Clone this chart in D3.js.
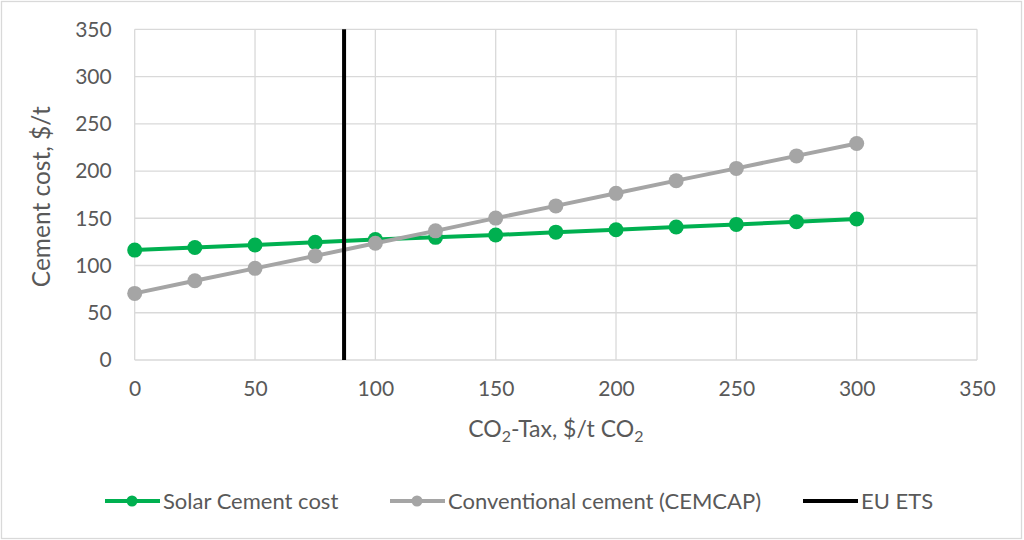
<!DOCTYPE html>
<html>
<head>
<meta charset="utf-8">
<script src="https://cdn.jsdelivr.net/npm/d3@7"></script>
<style>
  html, body { margin: 0; padding: 0; background: #fff; }
  svg { display: block; font-family: Lato, "Open Sans", sans-serif; }
</style>
</head>
<body>
<svg id="chart" width="1024" height="540"></svg>
<script>
// CO2 tax levels ($/t CO2)
const taxLevels = [0, 25, 50, 75, 100, 125, 150, 175, 200, 225, 250, 275, 300];
// Cement production cost ($/t) at each tax level
const solarCementCost = [116.3, 119, 121.7, 124.5, 127.5, 129.8, 132.3, 135.3, 137.8, 140.8, 143.5, 146.3, 149.2];
const conventionalCementCost = [70.5, 83.8, 97, 110.2, 123.5, 136.7, 150.2, 163.1, 176.4, 189.8, 202.8, 216, 229.1];
// EU ETS carbon price ($/t CO2)
const euEtsPrice = 87;
// Axis ticks
const xTicks = [0, 50, 100, 150, 200, 250, 300, 350];
const yTicks = [0, 50, 100, 150, 200, 250, 300, 350];
const seriesNames = ["Solar Cement cost", "Conventional cement (CEMCAP)", "EU ETS"];

const green = "#00b050", grey = "#a5a5a5", black = "#000000";
const gridColor = "#d9d9d9", textColor = "#595959";

const svg = d3.select("#chart");

// outer frame
svg.append("rect")
  .attr("x", 1.5).attr("y", 1.5).attr("width", 1020).attr("height", 537)
  .attr("fill", "#fff").attr("stroke", gridColor).attr("stroke-width", 1.3);

const x = d3.scaleLinear().domain([0, 350]).range([134.7, 977]);
const y = d3.scaleLinear().domain([0, 350]).range([360, 29.3]);

// gridlines
const grid = svg.append("g");
grid.selectAll("line.h").data(yTicks).join("line")
  .attr("x1", x(0)).attr("x2", x(350))
  .attr("y1", d => y(d)).attr("y2", d => y(d))
  .attr("stroke", gridColor).attr("stroke-width", 1.3);
grid.selectAll("line.v").data(xTicks).join("line")
  .attr("y1", y(0)).attr("y2", y(350))
  .attr("x1", d => x(d)).attr("x2", d => x(d))
  .attr("stroke", gridColor).attr("stroke-width", 1.3);

// axes (labels only, lines come from the grid)
const yAxis = svg.append("g")
  .attr("transform", `translate(${x(0) - 23},0)`)
  .call(d3.axisLeft(y).tickValues(yTicks).tickSize(0).tickPadding(0));
yAxis.select(".domain").remove();
yAxis.selectAll("text").attr("fill", textColor).style("font-size", "21px").style("font-family", "Lato");

const xAxis = svg.append("g")
  .attr("transform", `translate(0,${y(0) + 21})`)
  .call(d3.axisBottom(x).tickValues(xTicks).tickSize(0).tickPadding(0));
xAxis.select(".domain").remove();
xAxis.selectAll("text").attr("fill", textColor).style("font-size", "21px").style("font-family", "Lato");

// axis titles
svg.append("text")
  .attr("transform", `translate(50,${(y(0) + y(350)) / 2 + 2}) rotate(-90)`)
  .attr("text-anchor", "middle").attr("fill", textColor)
  .style("font-size", "24.5px")
  .text("Cement cost, $/t");

const xt = svg.append("text")
  .attr("x", (x(0) + x(350)) / 2).attr("y", 437)
  .attr("text-anchor", "middle").attr("fill", textColor)
  .style("font-size", "23px");
xt.append("tspan").text("CO");
xt.append("tspan").text("2").style("font-size", "16px").attr("dy", 5);
xt.append("tspan").text("-Tax, $/t CO").attr("dy", -5);
xt.append("tspan").text("2").style("font-size", "16px").attr("dy", 5);

// series
const series = [
  { name: seriesNames[0], color: green, values: solarCementCost },
  { name: seriesNames[1], color: grey, values: conventionalCementCost }
];
const line = d3.line().x(d => x(d[0])).y(d => y(d[1]));

series.forEach(s => {
  const pts = taxLevels.map((t, i) => [t, s.values[i]]);
  const g = svg.append("g");
  g.append("path").datum(pts)
    .attr("d", line).attr("fill", "none")
    .attr("stroke", s.color).attr("stroke-width", 4).attr("stroke-linejoin", "round");
  g.selectAll("circle").data(pts).join("circle")
    .attr("cx", d => x(d[0])).attr("cy", d => y(d[1])).attr("r", 7.5)
    .attr("fill", s.color);
});

// EU ETS reference line
svg.append("line")
  .attr("x1", x(euEtsPrice)).attr("x2", x(euEtsPrice))
  .attr("y1", y(0)).attr("y2", y(350))
  .attr("stroke", black).attr("stroke-width", 4);

// legend
const legendItems = [
  { name: seriesNames[0], color: green, marker: true, x0: 105 },
  { name: seriesNames[1], color: grey, marker: true, x0: 390 },
  { name: seriesNames[2], color: black, marker: false, x0: 803 }
];
const ly = 501;
const lg = svg.append("g");
legendItems.forEach(it => {
  lg.append("line")
    .attr("x1", it.x0).attr("x2", it.x0 + 55)
    .attr("y1", ly).attr("y2", ly)
    .attr("stroke", it.color).attr("stroke-width", 4);
  if (it.marker) {
    lg.append("circle").attr("cx", it.x0 + 27).attr("cy", ly).attr("r", 5.5).attr("fill", it.color);
  }
  lg.append("text")
    .attr("x", it.x0 + 58).attr("y", ly + 8)
    .attr("fill", textColor).style("font-size", "22px")
    .text(it.name);
});
</script>
</body>
</html>
